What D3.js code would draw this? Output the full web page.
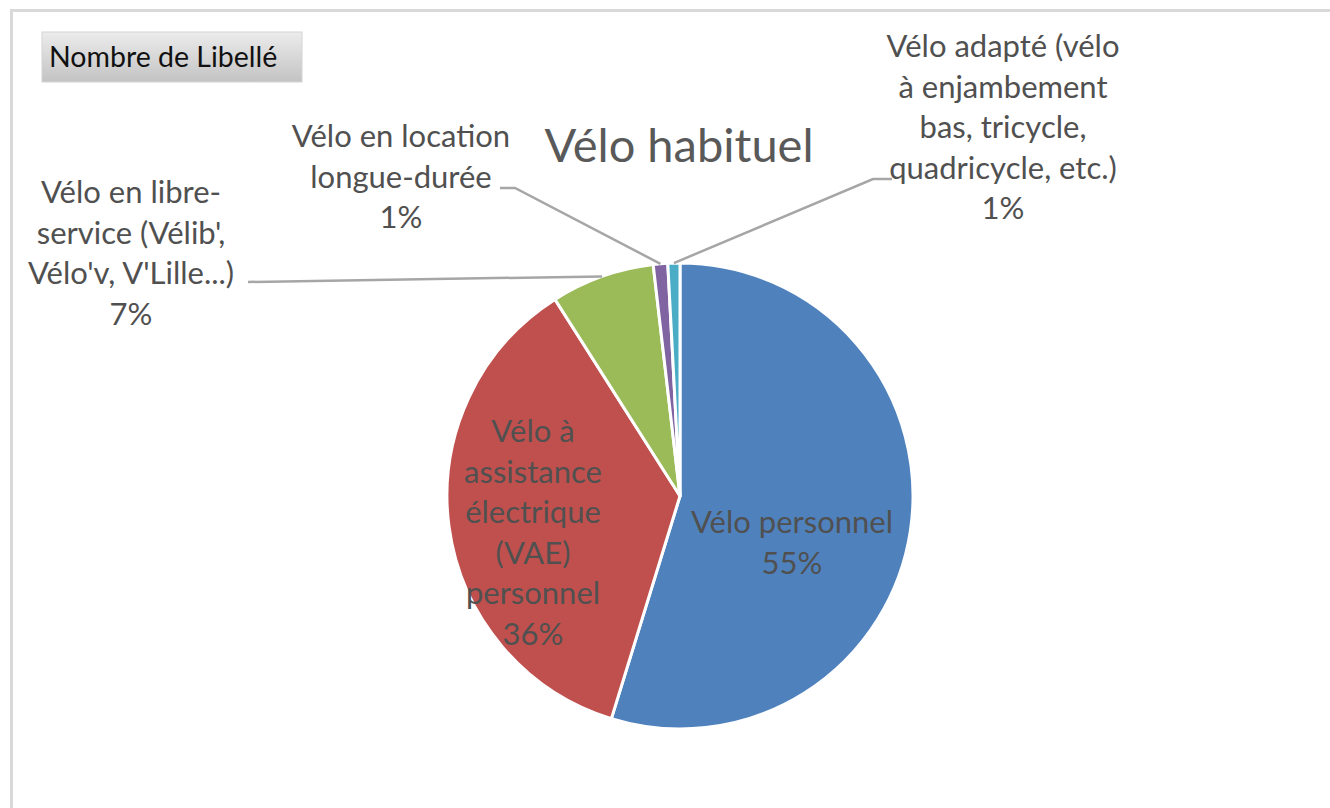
<!DOCTYPE html>
<html>
<head>
<meta charset="utf-8">
<script src="https://cdn.jsdelivr.net/npm/d3@7"></script>
<style>
  body { margin: 0; background: #fff; }
  svg { display: block; font-family: Lato, "Open Sans", sans-serif; }
</style>
</head>
<body>
<div id="chart"></div>
<script>
const width = 1330
const height = 808

// donnees
const categories = [
    "Vélo personnel",
    "Vélo à assistance électrique (VAE) personnel",
    "Vélo en libre-service (Vélib', Vélo'v, V'Lille...)",
    "Vélo en location longue-durée",
    "Vélo adapté (vélo à enjambement bas, tricycle, quadricycle, etc.)"
]
const counts = [328, 217, 43, 6, 5]
const labelLines = [
    ["Vélo personnel"],
    ["Vélo à", "assistance", "électrique", "(VAE)", "personnel"],
    ["Vélo en libre-", "service (Vélib',", "Vélo'v, V'Lille...)"],
    ["Vélo en location", "longue-durée"],
    ["Vélo adapté (vélo", "à enjambement", "bas, tricycle,", "quadricycle, etc.)"]
]
const colors = ["#4F81BD", "#C0504D", "#9BBB59", "#8064A2", "#4BACC6"]
const title = "Vélo habituel"
const fieldButton = "Nombre de Libellé"

// mise en page des etiquettes (centre x, ligne de base de la 1re ligne, depart du trait)
const center = {x: 680, y: 496}
const radius = 233
const lineHeight = 40.5
const labelLayout = [
    {x: 792, y: 533},
    {x: 533, y: 442},
    {x: 131, y: 203, leader: [[248, 282]]},
    {x: 401, y: 147, leader: [[500, 188], [515, 188]]},
    {x: 1003, y: 57, leader: [[892, 179], [873, 179]]}
]

const data = categories.map((c, i) => ({name: c, count: counts[i], lines: labelLines[i], color: colors[i]}))
const total = d3.sum(counts)
const pct = d3.format(".0%")

const svg = d3.select("#chart").append("svg").attr("width", width).attr("height", height)

// cadre du graphique
svg.append("rect")
    .attr("x", 11.5).attr("y", 10.5)
    .attr("width", width + 20).attr("height", height + 20)
    .attr("fill", "none").attr("stroke", "#d9d9d9").attr("stroke-width", 3)

// bouton de champ
const grad = svg.append("defs").append("linearGradient")
    .attr("id", "btn").attr("x1", 0).attr("x2", 0).attr("y1", 0).attr("y2", 1)
grad.append("stop").attr("offset", "0%").attr("stop-color", "#ececec")
grad.append("stop").attr("offset", "100%").attr("stop-color", "#c3c3c3")
svg.append("rect")
    .attr("x", 42).attr("y", 32).attr("width", 260).attr("height", 50)
    .attr("fill", "url(#btn)").attr("stroke", "#d4d4d4")
svg.append("text")
    .attr("x", 49).attr("y", 67)
    .attr("font-size", 28.5).attr("fill", "#111")
    .text(fieldButton)

// titre
svg.append("text")
    .attr("x", 679).attr("y", 162)
    .attr("text-anchor", "middle")
    .attr("font-size", 47).attr("fill", "#595959")
    .text(title)

const pie = d3.pie().sort(null).value(d => d.count)
const arc = d3.arc().innerRadius(0).outerRadius(radius)
const edgeArc = d3.arc().innerRadius(radius).outerRadius(radius)

const arcs = pie(data)
const pieGroup = svg.append("g").attr("transform", `translate(${center.x}, ${center.y})`)

pieGroup.selectAll("path")
    .data(arcs)
    .join("path")
    .attr("d", arc)
    .attr("fill", d => d.data.color)
    .attr("stroke", "#fff")
    .attr("stroke-width", 3)
    .attr("stroke-linejoin", "round")

// traits de rappel
const line = d3.line()
svg.selectAll("path.leader")
    .data(arcs.filter((d, i) => labelLayout[i].leader))
    .join("path")
    .attr("class", "leader")
    .attr("d", d => {
        const c = edgeArc.centroid(d)
        return line(labelLayout[d.index].leader.concat([[center.x + c[0], center.y + c[1]]]))
    })
    .attr("fill", "none")
    .attr("stroke", "#a6a6a6")
    .attr("stroke-width", 2.5)

// etiquettes
const labels = svg.selectAll("text.label")
    .data(arcs)
    .join("text")
    .attr("class", "label")
    .attr("text-anchor", "middle")
    .attr("font-size", 31)
    .attr("fill", "#505050")

labels.selectAll("tspan")
    .data(d => d.data.lines.concat([pct(d.data.count / total)]).map((t, k) => ({t, k, i: d.index})))
    .join("tspan")
    .attr("x", d => labelLayout[d.i].x)
    .attr("y", d => labelLayout[d.i].y + d.k * lineHeight)
    .text(d => d.t)
</script>
</body>
</html>
